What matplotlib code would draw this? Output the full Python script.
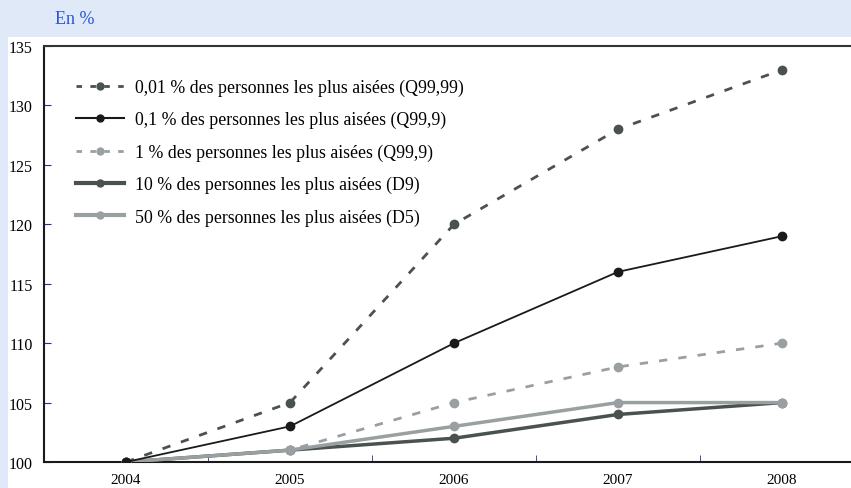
import matplotlib.pyplot as plt
from matplotlib.patches import Rectangle
from matplotlib.lines import Line2D
import numpy as np

years = ['2004', '2005', '2006', '2007', '2008']
q9999 = [100, 105, 120, 128, 133]
q999 = [100, 103, 110, 116, 119]
q99 = [100, 101, 105, 108, 110]
d9 = [100, 101, 102, 104, 105]
d5 = [100, 101, 103, 105, 105]

labels = [
    '0,01 % des personnes les plus aisées (Q99,99)',
    '0,1 % des personnes les plus aisées (Q99,9)',
    '1 % des personnes les plus aisées (Q99,9)',
    '10 % des personnes les plus aisées (D9)',
    '50 % des personnes les plus aisées (D5)',
]

plt.rcParams['font.family'] = ['Liberation Serif', 'DejaVu Serif']

W, H = 851, 489
fig = plt.figure(figsize=(W / 100, H / 100), dpi=100)
fig.patch.set_facecolor('#dfe9f7')
fig.add_artist(Rectangle((8 / W, 0), 1 - 8 / W, 1 - 38 / H, transform=fig.transFigure,
                         facecolor='white', edgecolor='none', zorder=0))
fig.text(55 / W, 1 - 20 / H, 'En %', color='#2c55d4', fontsize=13, va='center')

ax = fig.add_axes([44 / W, 1 - 463 / H, (851 - 44) / W, (463 - 47) / H])
ax.set_facecolor('none')
x = np.arange(len(years))

dark = '#4a5250'
light = '#9a9fa2'
ax.plot(x, q9999, color=dark, lw=2, ls=(0, (3, 4)), marker='o', ms=6, zorder=3)
ax.plot(x, q999, color='#1a1a1a', lw=1.3, marker='o', ms=6, zorder=4)
ax.plot(x, q99, color=light, lw=2, ls=(0, (3, 4)), marker='o', ms=6, zorder=3)
ax.plot(x, d9, color=dark, lw=2.5, marker='o', ms=6, zorder=3)
ax.plot(x, d5, color=light, lw=2.5, marker='o', ms=6, zorder=3)

handles = [
    Line2D([], [], color=dark, lw=2, ls=(0, (2, 3)), marker='o', ms=5),
    Line2D([], [], color='#1a1a1a', lw=1.5, marker='o', ms=5),
    Line2D([], [], color=light, lw=2, ls=(0, (2, 3)), marker='o', ms=5),
    Line2D([], [], color=dark, lw=3, marker='o', ms=5),
    Line2D([], [], color=light, lw=3, marker='o', ms=5),
]
ax.legend(handles, labels, loc='upper left', bbox_to_anchor=(0.02, 0.96), frameon=False,
          fontsize=12.8, handlelength=2.7, labelspacing=0.85, handletextpad=0.6)

ax.set_xlim(-0.5, 4.42)
ax.set_ylim(100, 135)
ax.set_yticks(np.arange(100, 136, 5))
ax.set_xticks(x)
ax.set_xticklabels(years)
ax.set_xticks(x[:-1] + 0.5, minor=True)
ax.tick_params(axis='x', which='major', length=0, labelsize=11, pad=8)
ax.tick_params(axis='x', which='minor', direction='in', length=5, color='#2a2a9a')
ax.tick_params(axis='y', direction='in', length=5, color='#2a2a9a', labelsize=11.5, pad=8)
ax.spines['right'].set_visible(False)
for s in ['left', 'bottom', 'top']:
    ax.spines[s].set_linewidth(1.5)
    ax.spines[s].set_color('#1a1a1a')
ax.spines['top'].set_color('#333333')

fig.savefig('out.png', dpi=100, facecolor=fig.get_facecolor())
